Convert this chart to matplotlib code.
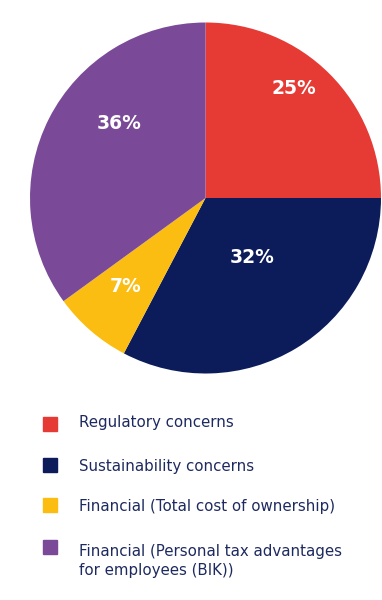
import numpy as np
import matplotlib.pyplot as plt
from matplotlib.patches import Rectangle

categories = ['Regulatory concerns', 'Sustainability concerns',
              'Financial (Total cost of ownership)',
              'Financial (Personal tax advantages\nfor employees (BIK))']
valeurs = [25, 32.7, 7.3, 35.0]
etiquettes = ['25%', '32%', '7%', '36%']

couleurs = ['#E63A35', '#0C1C5B', '#FCBD12', '#7A4A98']
texte_col = '#1D2A5F'

# position des etiquettes (rayon relatif, angle en degres)
pos_etiq = [(0.80, 51), (0.43, -52), (0.68, -132), (0.65, 139)]

W, H = 382, 600
fig = plt.figure(figsize=(W / 100, H / 100), dpi=100)

cx, cy, r = 205.5, 198, 175.5
ax = fig.add_axes([(cx - r) / W, (H - cy - r) / H, 2 * r / W, 2 * r / H])
ax.pie(valeurs, colors=couleurs, startangle=90, counterclock=False,
       radius=1, wedgeprops=dict(linewidth=0))
ax.set_xlim(-1, 1)
ax.set_ylim(-1, 1)
ax.set_aspect('auto')
ax.axis('off')

for lab, (rr, ang) in zip(etiquettes, pos_etiq):
    a = np.deg2rad(ang)
    ax.text(rr * np.cos(a), rr * np.sin(a), lab, color='white',
            fontsize=13.5, fontweight='bold', ha='center', va='center')

# legende manuelle
y_carre = [424, 465, 505, 547]
y_texte = [423, 466, 507, 561]
for col, lab, yc, yt in zip(couleurs, categories, y_carre, y_texte):
    fig.patches.append(Rectangle((43 / W, (H - yc - 7) / H), 14 / W, 14 / H,
                                 color=col, transform=fig.transFigure))
    fig.text(79 / W, (H - yt) / H, lab, color=texte_col, fontsize=10.8,
             ha='left', va='center', linespacing=1.4)

fig.savefig('out.png', dpi=100)
